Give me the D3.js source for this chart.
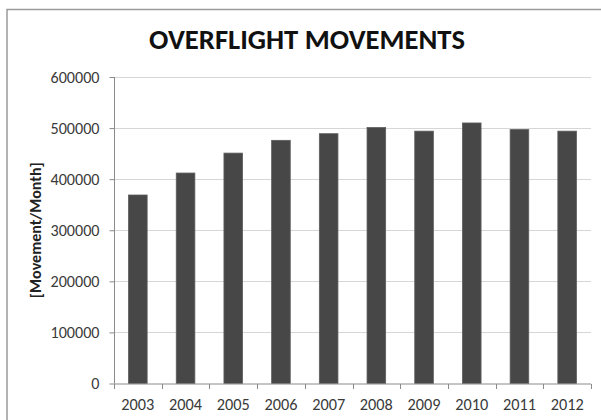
<!DOCTYPE html>
<html>
<head>
<meta charset="utf-8">
<script src="https://cdn.jsdelivr.net/npm/d3@7"></script>
<style>
  html, body { margin: 0; padding: 0; background: #fff; }
  svg { display: block; }
  text { font-family: Carlito, "Open Sans", sans-serif; }
</style>
</head>
<body>
<svg id="chart" width="601" height="420"></svg>
<script>
const years = ["2003", "2004", "2005", "2006", "2007", "2008", "2009", "2010", "2011", "2012"];
const movements = [369000, 412000, 451000, 476000, 489000, 501000, 494000, 510000, 497000, 494000];
const yTicks = [0, 100000, 200000, 300000, 400000, 500000, 600000];
const chartTitle = "OVERFLIGHT MOVEMENTS";
const yTitle = "[Movement/Month]";

const svg = d3.select("#chart");
const W = 601, H = 420;
const m = { left: 114, right: 10, top: 77, bottom: 36.5 };
const FONT = 'Carlito, "Open Sans", sans-serif';

// size a text selection so that its first node has the target width
function fitFont(sel, target) {
  sel.style("font-size", "20px");
  const len = sel.node().getComputedTextLength();
  const size = len > 0 ? 20 * target / len : 14;
  sel.style("font-size", size + "px");
  return size;
}

svg.append("rect").attr("width", W).attr("height", H).attr("fill", "#fff");

// outer chart frame (cut off at right and bottom)
svg.append("rect")
  .attr("x", 7).attr("y", 9.5)
  .attr("width", W + 20).attr("height", H + 20)
  .attr("fill", "none").attr("stroke", "#9a9a9a").attr("stroke-width", 1.5);

const x = d3.scaleBand().domain(years).range([m.left, W - m.right]).paddingInner(0.61).paddingOuter(0.305);
const xb = d3.scaleBand().domain(years).range([m.left, W - m.right]);
const y = d3.scaleLinear().domain([0, 600000]).range([H - m.bottom, m.top]);

// gridlines
svg.append("g").selectAll("line").data(yTicks.filter(d => d > 0)).join("line")
  .attr("x1", m.left).attr("x2", W - m.right)
  .attr("y1", d => Math.round(y(d)) + 0.5).attr("y2", d => Math.round(y(d)) + 0.5)
  .attr("stroke", "#d6d6d6").attr("stroke-width", 1.2);

// bars
svg.append("g").selectAll("rect").data(years).join("rect")
  .attr("x", (d) => x(d))
  .attr("width", x.bandwidth())
  .attr("y", (d, i) => y(movements[i]))
  .attr("height", (d, i) => y(0) - y(movements[i]))
  .attr("fill", "#474747")
  .attr("stroke", "#5c5c5c").attr("stroke-width", 0.8);

// y axis
const yAxis = d3.axisLeft(y).tickValues(yTicks).tickFormat(d3.format("d")).tickSize(5).tickPadding(10);
const gy = svg.append("g").attr("transform", `translate(${m.left + 0.5},0)`).call(yAxis);
gy.select(".domain").attr("stroke", "#8a8a8a").attr("d", `M0,${y(600000)}V${y(0)}`);
gy.selectAll(".tick line").attr("stroke", "#8a8a8a");
const yLabels = gy.selectAll(".tick text").attr("fill", "#3a3a3a").style("font-family", FONT);
const yLabSize = fitFont(gy.selectAll(".tick text").filter(d => d === 600000), 49);
yLabels.style("font-size", yLabSize + "px");

// x axis
const xAxis = d3.axisBottom(xb).tickSize(0).tickPadding(0);
const gx = svg.append("g").attr("transform", `translate(0,${y(0) + 0.5})`).call(xAxis);
gx.select(".domain").attr("stroke", "#8a8a8a").attr("d", `M${m.left},0H${W - m.right}`);
const xLabels = gx.selectAll(".tick text").attr("fill", "#3a3a3a").style("font-family", FONT)
  .attr("y", 26).attr("dy", 0);
const xLabSize = fitFont(gx.selectAll(".tick text").filter(d => d === "2003"), 33);
xLabels.style("font-size", xLabSize + "px");
// category boundary tick marks
const bounds = years.map(d => xb(d)).concat([W - m.right]);
gx.append("g").selectAll("line").data(bounds).join("line")
  .attr("x1", d => Math.round(d) + 0.5).attr("x2", d => Math.round(d) + 0.5)
  .attr("y1", 0).attr("y2", 5).attr("stroke", "#8a8a8a");

// title
const title = svg.append("text")
  .attr("x", 307).attr("y", 48.5)
  .attr("text-anchor", "middle")
  .style("font-weight", "bold").attr("fill", "#111")
  .text(chartTitle);
fitFont(title, 316);

// y title
const yt = svg.append("text")
  .attr("transform", `translate(41,${(y(0) + y(600000)) / 2}) rotate(-90)`)
  .attr("text-anchor", "middle")
  .style("font-weight", "bold").attr("fill", "#222")
  .text(yTitle);
fitFont(yt, 136);
</script>
</body>
</html>
